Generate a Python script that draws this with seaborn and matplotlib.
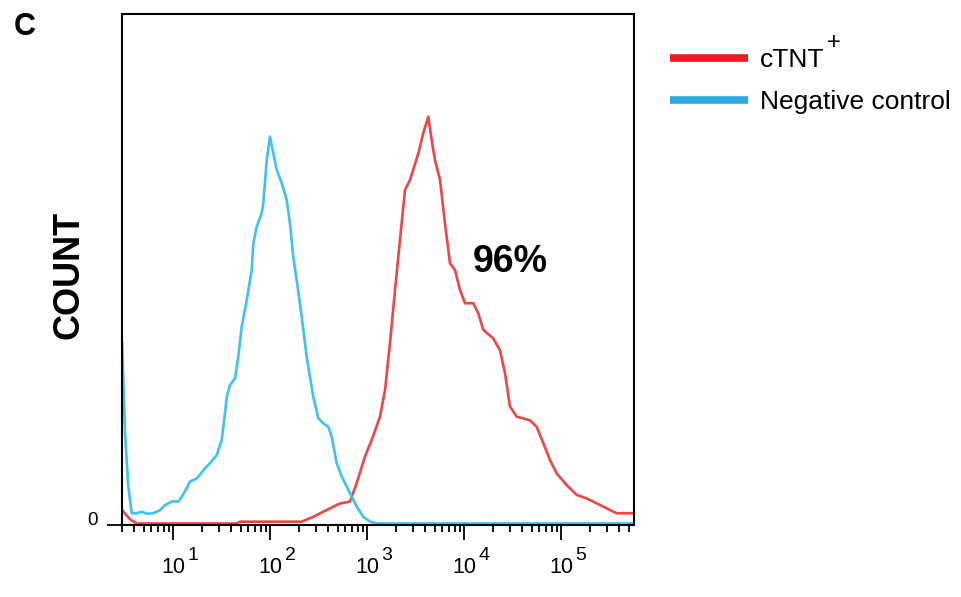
import numpy as np
import pandas as pd
import matplotlib
matplotlib.use('Agg')
import matplotlib.pyplot as plt
import matplotlib.transforms as mtransforms
from matplotlib.lines import Line2D
from matplotlib.ticker import LogLocator, NullFormatter
import seaborn as sns

# histogram traces: log10 of fluorescence and event count
red_log = [0.475, 0.557, 0.626, 1.657, 1.690, 2.327, 2.446, 2.549, 2.653, 2.722,
           2.825, 2.894, 2.979, 3.048, 3.134, 3.186, 3.237, 3.289, 3.340, 3.392,
           3.443, 3.529, 3.580, 3.632, 3.667, 3.701, 3.753, 3.804, 3.856, 3.907,
           3.959, 4.010, 4.096, 4.148, 4.199, 4.302, 4.371, 4.423, 4.474, 4.543,
           4.680, 4.749, 4.818, 4.887, 4.956, 5.059, 5.162, 5.265, 5.436, 5.574, 5.760]
red_count = [2.9, 1.1, 0.3, 0.3, 0.65, 0.65, 1.6, 2.6, 3.6, 4.2,
             4.6, 8.2, 13.4, 16.6, 21.2, 26.4, 35.6, 46.0, 55.8, 65.6,
             67.5, 72.7, 76.7, 79.9, 75.3, 71.4, 67.5, 59.0, 51.2, 49.9,
             46.0, 43.4, 43.4, 41.4, 38.2, 36.5, 34.2, 29.7, 23.2, 21.2,
             20.5, 19.2, 16.0, 12.7, 10.1, 7.8, 5.9, 5.2, 3.6, 2.3, 2.3]

blue_log = [0.475, 0.505, 0.539, 0.574, 0.626, 0.677, 0.729, 0.797, 0.866, 0.918,
            0.987, 1.055, 1.090, 1.141, 1.175, 1.244, 1.330, 1.381, 1.451, 1.502,
            1.536, 1.554, 1.588, 1.639, 1.673, 1.708, 1.760, 1.811, 1.828, 1.863,
            1.914, 1.931, 1.966, 2.000, 2.034, 2.069, 2.121, 2.172, 2.206, 2.240,
            2.275, 2.327, 2.378, 2.446, 2.498, 2.549, 2.601, 2.636, 2.688, 2.739,
            2.825, 2.894, 2.962, 3.031, 3.100, 3.203, 4.000, 5.000, 5.760]
blue_count = [35.9, 18.0, 7.5, 2.3, 2.3, 2.6, 2.2, 2.3, 2.9, 3.9,
              4.6, 4.6, 5.5, 7.2, 8.5, 9.1, 11.1, 12.1, 13.7, 16.6,
              21.9, 25.1, 27.4, 28.7, 32.9, 38.8, 44.0, 49.9, 55.1, 58.4,
              61.0, 63.0, 71.4, 76.0, 72.7, 69.5, 66.9, 63.6, 59.0, 52.5,
              47.9, 40.8, 32.9, 25.1, 20.9, 19.9, 19.2, 17.3, 12.1, 9.5,
              6.2, 3.6, 1.6, 0.65, 0.33, 0.3, 0.3, 0.3, 0.3]

samples = ['cTNT', 'Negative control']
line_colors = ['#F04545', '#3CC3F0']
legend_colors = ['#ED1C24', '#29ABE2']
decade_ticks = [10, 100, 1000, 10000, 100000]
percent_label = '96%'

df = pd.concat([
    pd.DataFrame({'fl': 10 ** np.array(red_log), 'count': red_count, 'sample': samples[0]}),
    pd.DataFrame({'fl': 10 ** np.array(blue_log), 'count': blue_count, 'sample': samples[1]}),
])

sns.set_style('white')
plt.rcParams['font.family'] = ['Liberation Sans', 'DejaVu Sans']
plt.rcParams['text.color'] = 'black'
plt.rcParams['axes.labelcolor'] = 'black'
plt.rcParams['xtick.color'] = 'black'
plt.rcParams['ytick.color'] = 'black'

fig = plt.figure(figsize=(9.61, 5.97), dpi=100)
ax = fig.add_axes([122 / 961, 1 - 525 / 597, 512 / 961, 511 / 597])

sns.lineplot(data=df, x='fl', y='count', hue='sample', palette=line_colors,
             estimator=None, linewidth=1.9, legend=False, ax=ax)

ax.set_xscale('log')
ax.set_xlim(10 ** 0.474, 10 ** 5.753)
ax.set_ylim(0, 100)

# axis frame
for side in ['left', 'right', 'top', 'bottom']:
    ax.spines[side].set_visible(True)
    ax.spines[side].set_color('black')
    ax.spines[side].set_linewidth(1.5)

# x ticks: "10" as tick label, exponent as separate text
ax.set_xticks(decade_ticks)
ax.set_xticklabels(['10'] * len(decade_ticks))
ax.xaxis.set_minor_locator(LogLocator(base=10, subs=range(2, 10), numticks=50))
ax.xaxis.set_minor_formatter(NullFormatter())
ax.tick_params(axis='x', which='major', direction='out', length=11, width=1.3,
               pad=12, labelsize=15.5, bottom=True)
ax.tick_params(axis='x', which='minor', direction='out', length=5, width=1.3, bottom=True)
exp_trans = mtransforms.offset_copy(ax.get_xaxis_transform(), fig=fig, x=10.5, y=0, units='points')
for t in decade_ticks:
    ax.text(t, -0.0685, str(int(round(np.log10(t)))), transform=exp_trans,
            ha='left', va='baseline', fontsize=14)

# y axis: only zero
ax.set_yticks([0])
ax.set_yticklabels(['0'])
ax.tick_params(axis='y', direction='out', length=10.8, width=1.3, pad=6.5, labelsize=13.5, left=True)
for lab in ax.get_yticklabels():
    lab.set_va('baseline')

ax.set_xlabel('')
ax.set_ylabel('COUNT', fontsize=26, fontweight='bold', va='center')
ax.yaxis.set_label_coords(-0.104, 0.49)

ax.text(10 ** 4.474, 49.5, percent_label, ha='center', va='baseline',
        fontsize=27, fontweight='bold')

# legend
handles = [Line2D([0], [0], color=c, linewidth=5.5, solid_capstyle='butt') for c in legend_colors]
leg = ax.legend(handles, samples, loc='upper left',
                bbox_to_anchor=(670 / 961, 1 - 48 / 597), bbox_transform=fig.transFigure,
                frameon=False, borderpad=0, borderaxespad=0, handlelength=2.95,
                handletextpad=0.45, labelspacing=0.68, fontsize=19)
fig.text(834 / 961, 1 - 49 / 597, '+', ha='center', va='baseline', fontsize=17)

fig.text(25 / 961, 1 - 35 / 597, 'C', ha='center', va='baseline', fontsize=22, fontweight='bold')

fig.savefig('out.png', dpi=100)
